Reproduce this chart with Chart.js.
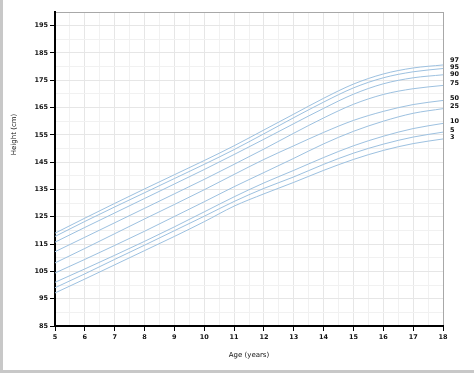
<!DOCTYPE html>
<html>
<head>
<meta charset="utf-8">
<script src="https://cdn.jsdelivr.net/npm/chart.js@4.4.1/dist/chart.umd.min.js"></script>
<style>
    html, body { margin: 0; padding: 0; background: #fff; }
    #wrap { width: 474px; height: 373px; }
</style>
</head>
<body>
<div id="wrap"><canvas id="growthChart" width="474" height="373"></canvas></div>
<script>
// Age in years
const ages = [5, 6, 7, 8, 9, 10, 11, 12, 13, 14, 15, 16, 17, 18];

// Height (cm) per percentile
const p97 = [119.0, 124.5, 129.9, 135.2, 140.4, 145.6, 151.0, 156.8, 162.6, 168.4, 173.6, 177.3, 179.5, 180.6];
const p95 = [117.8, 123.3, 128.6, 133.8, 139.0, 144.2, 149.6, 155.4, 161.3, 167.0, 172.2, 175.9, 178.1, 179.3];
const p90 = [115.7, 121.1, 126.4, 131.7, 137.0, 142.3, 147.8, 153.4, 159.1, 164.7, 169.9, 173.7, 175.9, 177.0];
const p75 = [112.2, 117.5, 122.8, 128.1, 133.4, 138.7, 144.2, 149.8, 155.6, 161.2, 166.2, 169.8, 171.9, 173.1];
const p50 = [108.1, 113.4, 118.8, 124.2, 129.5, 134.9, 140.5, 146.0, 151.0, 155.9, 160.3, 163.6, 166.1, 167.6];
const p25 = [104.4, 109.4, 114.5, 119.7, 125.1, 130.5, 136.0, 141.2, 146.4, 151.7, 156.3, 160.0, 162.9, 164.6];
const p10 = [101.0, 105.9, 110.9, 116.0, 121.3, 126.8, 132.3, 137.4, 142.0, 146.7, 151.0, 154.5, 157.3, 159.2];
const p5 = [99.0, 104.1, 109.4, 114.6, 119.9, 125.2, 130.6, 135.4, 139.6, 144.2, 148.3, 151.6, 154.2, 156.0];
const p3 = [97.1, 102.2, 107.4, 112.6, 117.8, 123.2, 128.9, 133.4, 137.6, 142.0, 146.0, 149.3, 151.8, 153.5];

const percentileNames = ["97", "95", "90", "75", "50", "25", "10", "5", "3"];
const percentileSeries = [p97, p95, p90, p75, p50, p25, p10, p5, p3];

// Axis ranges and titles
const xMin = 5, xMax = 18;
const yMin = 85, yMax = 200;
const xTitle = "Age (years)";
const yTitle = "Height (cm)";

const fontFamily = '"DejaVu Sans", Verdana, sans-serif';
const lineColor = "#9dc1e0";

function isYLabel(v) {
    return (v - yMin) % 10 === 0 && v < yMax;
}

// background frame, axis titles and percentile names
const chartDecor = {
    id: "chartDecor",
    beforeDraw(chart) {
        const c = chart.ctx;
        c.save();
        c.fillStyle = "#fff";
        c.fillRect(0, 0, chart.width, chart.height);
        c.fillStyle = "#c8c8c8";
        c.fillRect(0, 0, 3, chart.height);
        c.fillRect(0, chart.height - 3, chart.width, 3);
        c.restore();
    },
    afterDraw(chart) {
        const { ctx, chartArea, scales } = chart;
        ctx.save();
        ctx.fillStyle = "#111";
        ctx.font = "7px " + fontFamily;
        ctx.textAlign = "center";
        ctx.textBaseline = "middle";
        ctx.fillText(xTitle, (chartArea.left + chartArea.right) / 2, chartArea.bottom + 29);

        ctx.save();
        ctx.translate(14, chartArea.top + (chartArea.bottom - chartArea.top) * 0.39);
        ctx.rotate(-Math.PI / 2);
        ctx.fillText(yTitle, 0, 0);
        ctx.restore();

        // labels at the end of each curve, pushed apart when too close
        const ys = percentileSeries.map((s) => scales.y.getPixelForValue(s[s.length - 1]) - 2);
        for (let pass = 0; pass < 8; pass++) {
            for (let i = 0; i < ys.length - 1; i++) {
                const gap = ys[i + 1] - ys[i];
                if (gap < 7) {
                    const d = (7 - gap) / 2;
                    ys[i] -= d;
                    ys[i + 1] += d;
                }
            }
        }
        ctx.font = "bold 6.5px " + fontFamily;
        ctx.textAlign = "left";
        percentileNames.forEach((name, i) => {
            ctx.fillText(name, chartArea.right + 7, ys[i]);
        });
        ctx.restore();
    },
};

const ctx = document.getElementById("growthChart").getContext("2d");

const growthChart = new Chart(ctx, {
    type: "line",
    data: {
        labels: ages,
        datasets: percentileSeries.map((s, i) => ({
            label: percentileNames[i],
            data: ages.map((a, j) => ({ x: a, y: s[j] })),
            borderColor: lineColor,
            borderWidth: 1,
            pointRadius: 0,
            fill: false,
            cubicInterpolationMode: "monotone",
        })),
    },
    options: {
        responsive: false,
        devicePixelRatio: 1,
        animation: false,
        layout: { padding: { top: 12, right: 31, left: 0, bottom: 0 } },
        plugins: {
            legend: { display: false },
            tooltip: { enabled: false },
        },
        scales: {
            x: {
                type: "linear",
                min: xMin,
                max: xMax,
                afterFit: (scale) => { scale.height = 47; },
                border: { color: "#000", width: 2 },
                grid: {
                    color: (c) => {
                        const v = c.tick ? c.tick.value : 0;
                        if (v === xMax) return "#a8a8a8";
                        return Number.isInteger(v) ? "#e6e6e6" : "#f1f1f1";
                    },
                    tickLength: 5,
                    tickColor: (c) => (c.tick && Number.isInteger(c.tick.value) ? "#000" : "rgba(0,0,0,0)"),
                },
                ticks: {
                    stepSize: 0.5,
                    autoSkip: false,
                    maxRotation: 0,
                    padding: 2,
                    color: "#111",
                    font: { family: fontFamily, size: 6.5, weight: "bold" },
                    callback: (v) => (Number.isInteger(v) ? v : ""),
                },
            },
            y: {
                type: "linear",
                min: yMin,
                max: yMax,
                afterFit: (scale) => { scale.width = 55; },
                border: { color: "#000", width: 2 },
                grid: {
                    color: (c) => {
                        const v = c.tick ? c.tick.value : 0;
                        if (v === yMax) return "#a8a8a8";
                        return isYLabel(v) ? "#e6e6e6" : "#f1f1f1";
                    },
                    tickLength: 5,
                    tickColor: (c) => (c.tick && isYLabel(c.tick.value) ? "#000" : "rgba(0,0,0,0)"),
                },
                ticks: {
                    stepSize: 5,
                    autoSkip: false,
                    padding: 2,
                    color: "#111",
                    font: { family: fontFamily, size: 6.5, weight: "bold" },
                    callback: (v) => (isYLabel(v) ? v : ""),
                },
            },
        },
    },
    plugins: [chartDecor],
});
</script>
</body>
</html>
